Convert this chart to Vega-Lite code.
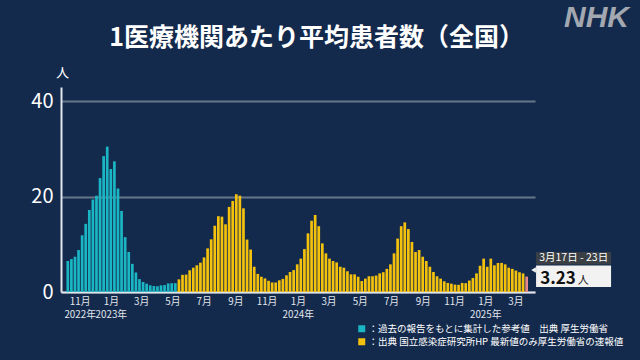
{
  "$schema": "https://vega.github.io/schema/vega-lite/v6.json",
  "width": 474,
  "height": 205,
  "autosize": "none",
  "padding": {"left": 61, "top": 87, "right": 105, "bottom": 68},
  "background": "#132a4c",
  "config": {"view": {"stroke": null}, "font": "Noto Sans CJK JP"},
  "datasets": {
    "weekly": [
      {"date":"2022-10-03","value":6.5,"source":"a"},
      {"date":"2022-10-10","value":6.9,"source":"a"},
      {"date":"2022-10-17","value":7.4,"source":"a"},
      {"date":"2022-10-24","value":8.8,"source":"a"},
      {"date":"2022-10-31","value":11.9,"source":"a"},
      {"date":"2022-11-07","value":14.3,"source":"a"},
      {"date":"2022-11-14","value":17.2,"source":"a"},
      {"date":"2022-11-21","value":19.4,"source":"a"},
      {"date":"2022-11-28","value":20.2,"source":"a"},
      {"date":"2022-12-05","value":23.9,"source":"a"},
      {"date":"2022-12-12","value":28.5,"source":"a"},
      {"date":"2022-12-19","value":30.5,"source":"a"},
      {"date":"2022-12-26","value":25.8,"source":"a"},
      {"date":"2023-01-02","value":27.4,"source":"a"},
      {"date":"2023-01-09","value":21.7,"source":"a"},
      {"date":"2023-01-16","value":17.0,"source":"a"},
      {"date":"2023-01-23","value":11.5,"source":"a"},
      {"date":"2023-01-30","value":8.4,"source":"a"},
      {"date":"2023-02-06","value":5.9,"source":"a"},
      {"date":"2023-02-13","value":4.1,"source":"a"},
      {"date":"2023-02-20","value":2.7,"source":"a"},
      {"date":"2023-02-27","value":2.1,"source":"a"},
      {"date":"2023-03-06","value":1.75,"source":"a"},
      {"date":"2023-03-13","value":1.4,"source":"a"},
      {"date":"2023-03-20","value":1.25,"source":"a"},
      {"date":"2023-03-27","value":1.2,"source":"a"},
      {"date":"2023-04-03","value":1.4,"source":"a"},
      {"date":"2023-04-10","value":1.45,"source":"a"},
      {"date":"2023-04-17","value":1.8,"source":"a"},
      {"date":"2023-04-24","value":1.85,"source":"a"},
      {"date":"2023-05-01","value":1.85,"source":"a"},
      {"date":"2023-05-08","value":2.65,"source":"b"},
      {"date":"2023-05-15","value":3.6,"source":"b"},
      {"date":"2023-05-22","value":3.65,"source":"b"},
      {"date":"2023-05-29","value":4.55,"source":"b"},
      {"date":"2023-06-05","value":5.1,"source":"b"},
      {"date":"2023-06-12","value":5.6,"source":"b"},
      {"date":"2023-06-19","value":6.15,"source":"b"},
      {"date":"2023-06-26","value":7.25,"source":"b"},
      {"date":"2023-07-03","value":9.15,"source":"b"},
      {"date":"2023-07-10","value":11.05,"source":"b"},
      {"date":"2023-07-17","value":13.9,"source":"b"},
      {"date":"2023-07-24","value":15.9,"source":"b"},
      {"date":"2023-07-31","value":15.8,"source":"b"},
      {"date":"2023-08-07","value":14.2,"source":"b"},
      {"date":"2023-08-14","value":17.85,"source":"b"},
      {"date":"2023-08-21","value":19.1,"source":"b"},
      {"date":"2023-08-28","value":20.5,"source":"b"},
      {"date":"2023-09-04","value":20.2,"source":"b"},
      {"date":"2023-09-11","value":17.55,"source":"b"},
      {"date":"2023-09-18","value":11.0,"source":"b"},
      {"date":"2023-09-25","value":8.9,"source":"b"},
      {"date":"2023-10-02","value":5.3,"source":"b"},
      {"date":"2023-10-09","value":3.8,"source":"b"},
      {"date":"2023-10-16","value":3.2,"source":"b"},
      {"date":"2023-10-23","value":2.85,"source":"b"},
      {"date":"2023-10-30","value":2.35,"source":"b"},
      {"date":"2023-11-06","value":2.0,"source":"b"},
      {"date":"2023-11-13","value":2.0,"source":"b"},
      {"date":"2023-11-20","value":2.45,"source":"b"},
      {"date":"2023-11-27","value":2.75,"source":"b"},
      {"date":"2023-12-04","value":3.5,"source":"b"},
      {"date":"2023-12-11","value":4.2,"source":"b"},
      {"date":"2023-12-18","value":4.6,"source":"b"},
      {"date":"2023-12-25","value":5.8,"source":"b"},
      {"date":"2024-01-01","value":7.0,"source":"b"},
      {"date":"2024-01-08","value":9.0,"source":"b"},
      {"date":"2024-01-15","value":12.3,"source":"b"},
      {"date":"2024-01-22","value":14.95,"source":"b"},
      {"date":"2024-01-29","value":16.15,"source":"b"},
      {"date":"2024-02-05","value":13.8,"source":"b"},
      {"date":"2024-02-12","value":10.2,"source":"b"},
      {"date":"2024-02-19","value":8.1,"source":"b"},
      {"date":"2024-02-26","value":7.0,"source":"b"},
      {"date":"2024-03-04","value":6.5,"source":"b"},
      {"date":"2024-03-11","value":6.2,"source":"b"},
      {"date":"2024-03-18","value":5.3,"source":"b"},
      {"date":"2024-03-25","value":5.1,"source":"b"},
      {"date":"2024-04-01","value":4.35,"source":"b"},
      {"date":"2024-04-08","value":3.7,"source":"b"},
      {"date":"2024-04-15","value":3.7,"source":"b"},
      {"date":"2024-04-22","value":3.2,"source":"b"},
      {"date":"2024-04-29","value":2.3,"source":"b"},
      {"date":"2024-05-06","value":2.8,"source":"b"},
      {"date":"2024-05-13","value":3.3,"source":"b"},
      {"date":"2024-05-20","value":3.3,"source":"b"},
      {"date":"2024-05-27","value":3.45,"source":"b"},
      {"date":"2024-06-03","value":3.9,"source":"b"},
      {"date":"2024-06-10","value":4.15,"source":"b"},
      {"date":"2024-06-17","value":4.85,"source":"b"},
      {"date":"2024-06-24","value":5.8,"source":"b"},
      {"date":"2024-07-01","value":8.1,"source":"b"},
      {"date":"2024-07-08","value":11.2,"source":"b"},
      {"date":"2024-07-15","value":13.8,"source":"b"},
      {"date":"2024-07-22","value":14.6,"source":"b"},
      {"date":"2024-07-29","value":13.2,"source":"b"},
      {"date":"2024-08-05","value":10.5,"source":"b"},
      {"date":"2024-08-12","value":8.4,"source":"b"},
      {"date":"2024-08-19","value":8.8,"source":"b"},
      {"date":"2024-08-26","value":7.4,"source":"b"},
      {"date":"2024-09-02","value":6.5,"source":"b"},
      {"date":"2024-09-09","value":5.3,"source":"b"},
      {"date":"2024-09-16","value":4.2,"source":"b"},
      {"date":"2024-09-23","value":3.3,"source":"b"},
      {"date":"2024-09-30","value":2.8,"source":"b"},
      {"date":"2024-10-07","value":2.25,"source":"b"},
      {"date":"2024-10-14","value":1.9,"source":"b"},
      {"date":"2024-10-21","value":1.75,"source":"b"},
      {"date":"2024-10-28","value":1.55,"source":"b"},
      {"date":"2024-11-04","value":1.5,"source":"b"},
      {"date":"2024-11-11","value":1.9,"source":"b"},
      {"date":"2024-11-18","value":1.85,"source":"b"},
      {"date":"2024-11-25","value":2.4,"source":"b"},
      {"date":"2024-12-02","value":2.95,"source":"b"},
      {"date":"2024-12-09","value":3.9,"source":"b"},
      {"date":"2024-12-16","value":5.5,"source":"b"},
      {"date":"2024-12-23","value":7.0,"source":"b"},
      {"date":"2024-12-30","value":5.3,"source":"b"},
      {"date":"2025-01-06","value":7.0,"source":"b"},
      {"date":"2025-01-13","value":5.6,"source":"b"},
      {"date":"2025-01-20","value":6.1,"source":"b"},
      {"date":"2025-01-27","value":6.1,"source":"b"},
      {"date":"2025-02-03","value":5.8,"source":"b"},
      {"date":"2025-02-10","value":5.1,"source":"b"},
      {"date":"2025-02-17","value":4.85,"source":"b"},
      {"date":"2025-02-24","value":4.5,"source":"b"},
      {"date":"2025-03-03","value":4.15,"source":"b"},
      {"date":"2025-03-10","value":3.9,"source":"b"},
      {"date":"2025-03-17","value":3.23,"source":"c"}
    ],
    "latest": [
      {"date":"2025-03-17","label":"3月17日 - 23日","value":3.23}
    ]
  },
  "layer": [
    {
      "data": {"name": "weekly"},
      "mark": {"type": "bar", "width": 2.7},
      "encoding": {
        "x": {
          "field": "date", "type": "temporal",
          "scale": {"type": "utc", "nice": false, "domain": [
            {"year": 2022, "month": 9, "date": 29, "hours": 12, "utc": true},
            {"year": 2025, "month": 3, "date": 23, "hours": 12, "utc": true}
          ]},
          "axis": {
            "orient": "bottom",
            "title": null,
            "tickCount": {"interval": "month", "step": 2},
            "grid": false, "ticks": false,
            "domain": true, "domainColor": "#e2e6ec", "domainWidth": 2,
            "labelColor": "#e2e6ec", "labelFontSize": 9.8, "labelPadding": 4,
            "labelOffset": -3, "labelAngle": 0, "labelLineHeight": 13,
            "labelFlush": false, "labelOverlap": false,
            "labelExpr": "utcmonth(datum.value) == 0 || utcyear(datum.value) == 2022 ? [utcFormat(datum.value, '%-m月'), utcFormat(datum.value, '%Y年')] : utcFormat(datum.value, '%-m月')"
          }
        },
        "y": {
          "field": "value", "type": "quantitative",
          "scale": {"domain": [0, 43], "nice": false},
          "axis": {
            "values": [0, 20, 40],
            "grid": true, "gridColor": "#67758a", "gridWidth": 2,
            "ticks": false,
            "domain": true, "domainColor": "#e2e6ec", "domainWidth": 2,
            "labelColor": "#ffffff", "labelFontSize": 20, "labelPadding": 8,
            "title": "人", "titleAngle": 0, "titleX": 1, "titleY": -15,
            "titleAlign": "center", "titleBaseline": "middle",
            "titleColor": "#ffffff", "titleFontSize": 13, "titleFontWeight": "normal"
          }
        },
        "color": {
          "field": "source", "type": "nominal",
          "scale": {"domain": ["a", "b", "c"], "range": ["#1bb6c4", "#f4c20d", "#e88a8c"]},
          "legend": {
            "orient": "none", "legendX": 296, "legendY": 237,
            "values": ["a", "b"], "title": null,
            "symbolType": "square", "symbolSize": 49, "symbolStrokeWidth": 0,
            "labelColor": "#ffffff", "labelFontSize": 9.5, "labelOffset": 2,
            "rowPadding": 2, "labelLimit": 400,
            "labelExpr": "datum.value == 'a' ? '：過去の報告をもとに集計した参考値　出典 厚生労働省' : '：出典 国立感染症研究所HP 最新値のみ厚生労働省の速報値'"
          }
        }
      }
    },
    {
      "data": {"name": "latest"},
      "mark": {"type": "rect", "color": "#3a3f46", "xOffset": 9.4, "x2Offset": 84.4},
      "encoding": {
        "x": {"field": "date", "type": "temporal", "axis": null},
        "x2": {"field": "date"},
        "y": {"datum": 8.39, "type": "quantitative", "axis": null},
        "y2": {"datum": 5.77}
      }
    },
    {
      "data": {"name": "latest"},
      "mark": {"type": "rect", "color": "#f2f2f2", "xOffset": 9.4, "x2Offset": 84.4},
      "encoding": {
        "x": {"field": "date", "type": "temporal", "axis": null},
        "x2": {"field": "date"},
        "y": {"datum": 5.56, "type": "quantitative", "axis": null},
        "y2": {"datum": 1.05}
      }
    },
    {
      "data": {"name": "latest"},
      "mark": {"type": "point", "shape": "triangle-left", "size": 30, "filled": true, "color": "#f2f2f2", "opacity": 1, "xOffset": 6.9},
      "encoding": {
        "x": {"field": "date", "type": "temporal", "axis": null},
        "y": {"datum": 4.6, "type": "quantitative", "axis": null}
      }
    },
    {
      "data": {"name": "latest"},
      "mark": {"type": "text", "color": "#ffffff", "fontSize": 10.5, "align": "center", "baseline": "middle", "dx": 47},
      "encoding": {
        "x": {"field": "date", "type": "temporal", "axis": null},
        "y": {"datum": 7.08, "type": "quantitative", "axis": null},
        "text": {"field": "label"}
      }
    },
    {
      "data": {"name": "latest"},
      "mark": {"type": "text", "color": "#111111", "fontSize": 17, "fontWeight": "bold", "align": "left", "baseline": "alphabetic", "dx": 13.5},
      "encoding": {
        "x": {"field": "date", "type": "temporal", "axis": null},
        "y": {"datum": 1.68, "type": "quantitative", "axis": null},
        "text": {"field": "value", "format": ".2f"}
      }
    },
    {
      "data": {"name": "latest"},
      "mark": {"type": "text", "text": "人", "color": "#111111", "fontSize": 11, "align": "left", "baseline": "alphabetic", "dx": 51},
      "encoding": {
        "x": {"field": "date", "type": "temporal", "axis": null},
        "y": {"datum": 1.68, "type": "quantitative", "axis": null}
      }
    },
    {
      "data": {"name": "latest"},
      "mark": {"type": "text", "text": ""},
      "encoding": {
        "x": {
          "field": "date", "type": "temporal",
          "axis": {
            "orient": "top", "labels": false, "ticks": false, "domain": false, "grid": false,
            "title": "1医療機関あたり平均患者数（全国）",
            "titleX": 255, "titleY": -50, "titleAlign": "center", "titleBaseline": "middle",
            "titleFontSize": 25, "titleFontWeight": "bold", "titleColor": "#ffffff", "titleLimit": 1000
          }
        },
        "y": {
          "datum": 1, "type": "quantitative",
          "axis": {
            "orient": "right", "labels": false, "ticks": false, "domain": false, "grid": false,
            "title": "NHK", "titleX": 61, "titleY": -70, "titleAngle": 0,
            "titleAlign": "center", "titleBaseline": "middle",
            "titleFont": "Liberation Sans", "titleFontSize": 30, "titleFontStyle": "italic",
            "titleFontWeight": "bold", "titleColor": "#a3a8b0"
          }
        }
      }
    }
  ],
  "resolve": {"axis": {"x": "independent", "y": "independent"}}
}
